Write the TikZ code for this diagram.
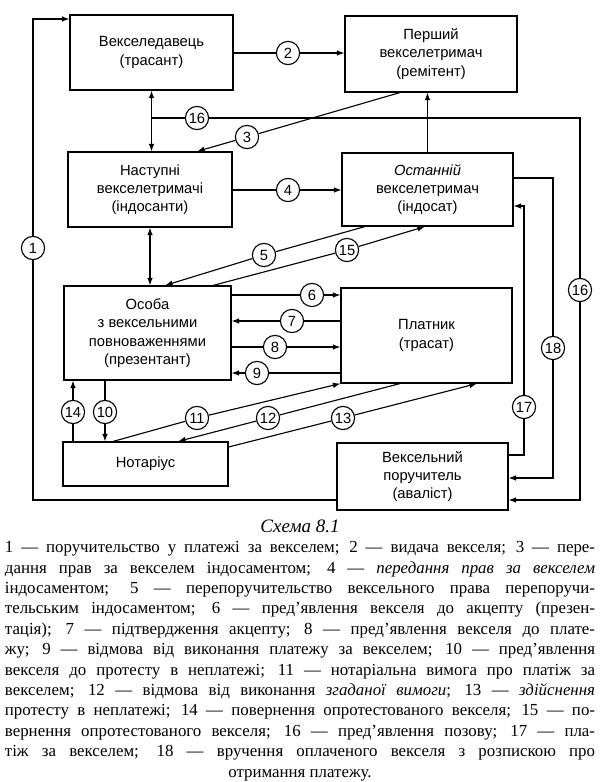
\documentclass[tikz,border=0pt]{standalone}
\usepackage{fontspec}
\setmainfont{Liberation Serif}
\setsansfont{Liberation Sans}
\usetikzlibrary{arrows.meta}

\newcommand\txtline[1]{\makebox[14.75cm][s]{#1}}

\begin{document}
\begin{tikzpicture}[x=0.025cm,y=-0.025cm,>={Latex[length=1.9mm,width=1.4mm]},line width=0.8pt,
  box/.style 2 args={draw,minimum width=#1*0.025cm,minimum height=#2*0.025cm,inner sep=0pt,align=center,font=\sffamily\fontsize{10.5}{13}\selectfont},
  num/.style={draw,circle,fill=white,minimum size=0.58cm,inner sep=0pt,font=\sffamily\fontsize{10.5}{12}\selectfont}]
\useasboundingbox (0,0) rectangle (600,782);
\node[box={163}{75}] (trasant) at (151.5,52.5) {Векселедавець\\(трасант)};
\node[box={172}{76}] (remitent) at (431,54) {Перший\\векселетримач\\(ремітент)};
\node[box={164}{75}] (indosanty) at (150,189.5) {Наступні\\векселетримачі\\(індосанти)};
\node[box={171}{73}] (indosat) at (427.5,189.5) {\textit{Останній}\\векселетримач\\(індосат)};
\node[box={167}{94}] (prezentant) at (147.5,333) {Особа\\з вексельними\\повноваженнями\\(презентант)};
\node[box={171}{95}] (platnyk) at (426.5,335.5) {Платник\\(трасат)};
\node[box={165}{44}] (notarius) at (145.5,464) {Нотаріус};
\node[box={171}{67}] (avalist) at (422.5,476.5) {Вексельний\\поручитель\\(аваліст)};

\node[num] (n1) at (33,248) {1};
\node[num] (n2) at (288,53) {2};
\node[num] (n3) at (247,137) {3};
\node[num] (n4) at (288,190) {4};
\node[num] (n5) at (264,255) {5};
\node[num] (n15) at (347,250) {15};
\node[num] (n6) at (312,295) {6};
\node[num] (n7) at (292,321) {7};
\node[num] (n8) at (275,347) {8};
\node[num] (n9) at (257,373) {9};
\node[num] (n14) at (73,412) {14};
\node[num] (n10) at (105,412) {10};
\node[num] (n11) at (197,418) {11};
\node[num] (n12) at (268,418) {12};
\node[num] (n13) at (343,418) {13};
\node[num] (n16a) at (197,118) {16};
\node[num] (n16b) at (580,290) {16};
\node[num] (n17) at (524,407) {17};
\node[num] (n18) at (553,348) {18};

\draw (avalist.west |- 0,500) -| (n1);
\draw[->] (n1) |- (trasant.west |- 0,19);
\draw[->] (trasant.east |- n2) -- (n2) -- (remitent.west |- n2);
\draw[->] (remitent.south -| 400,0) -- (n3) -- (indosanty.north -| 197,0);
\draw[<->] (trasant.south) -- (indosanty.north -| trasant.south);
\draw[->] (trasant.south |- n16a) -- (n16a) -- (n16b |- n16a) -- (n16b) -- (n16b |- 0,500) -- (avalist.east |- 0,500);
\draw[->] (indosanty.east |- n4) -- (n4) -- (indosat.west |- n4);
\draw[->] (indosat.north) -- (remitent.south -| indosat.north);
\draw[<->] (indosanty.south) -- (prezentant.north -| indosanty.south);
\draw[->] (indosat.south -| 365,0) -- (n5) -- (prezentant.north -| 165,0);
\draw[->] (prezentant.north -| 213,0) -- (n15) -- (indosat.south -| 425,0);
\draw[->] (prezentant.east |- n6) -- (n6) -- (platnyk.west |- n6);
\draw[->] (platnyk.west |- n7) -- (n7) -- (prezentant.east |- n7);
\draw[->] (prezentant.east |- n8) -- (n8) -- (platnyk.west |- n8);
\draw[->] (platnyk.west |- n9) -- (n9) -- (prezentant.east |- n9);
\draw[->] (prezentant.south -| n10) -- (n10) -- (notarius.north -| n10);
\draw[->] (notarius.north -| n14) -- (n14) -- (prezentant.south -| n14);
\draw[->] (notarius.north -| 113,0) -- (n11) -- (platnyk.south west);
\draw[->] (platnyk.south -| 400,0) -- (n12) -- (notarius.north -| 178,0);
\draw[->] (notarius.east |- 0,447) -- (n13) -- (platnyk.south -| 477,0);
\draw[->] (avalist.east |- 0,455) -| (n17) |- (indosat.east |- 0,206);
\draw[->] (indosat.east |- 0,178) -| (n18) |- (avalist.east |- 0,478);

\node[font=\itshape\fontsize{13.5}{16}\selectfont] (title) at (300,526) {Схема 8.1};
\node[anchor=north,align=center,inner sep=0pt,font=\fontsize{12}{14.5}\selectfont] (legend) at (300,541) {%
\txtline{1 — поручительство у платежі за векселем; 2 — видача векселя; 3 — пере-}\\
\txtline{дання прав за векселем індосаментом; 4 — \textit{передання прав за векселем}}\\
\txtline{індосаментом; 5 — перепоручительство вексельного права перепоручи-}\\
\txtline{тельським індосаментом; 6 — пред’явлення векселя до акцепту (презен-}\\
\txtline{тація); 7 — підтвердження акцепту; 8 — пред’явлення векселя до плате-}\\
\txtline{жу; 9 — відмова від виконання платежу за векселем; 10 — пред’явлення}\\
\txtline{векселя до протесту в неплатежі; 11 — нотаріальна вимога про платіж за}\\
\txtline{векселем; 12 — відмова від виконання \textit{згаданої вимоги}; 13 — \textit{здійснення}}\\
\txtline{протесту в неплатежі; 14 — повернення опротестованого векселя; 15 — по-}\\
\txtline{вернення опротестованого векселя; 16 — пред’явлення позову; 17 — пла-}\\
\txtline{тіж за векселем; 18 — вручення оплаченого векселя з розпискою про}\\
отримання платежу.};
\end{tikzpicture}
\end{document}
